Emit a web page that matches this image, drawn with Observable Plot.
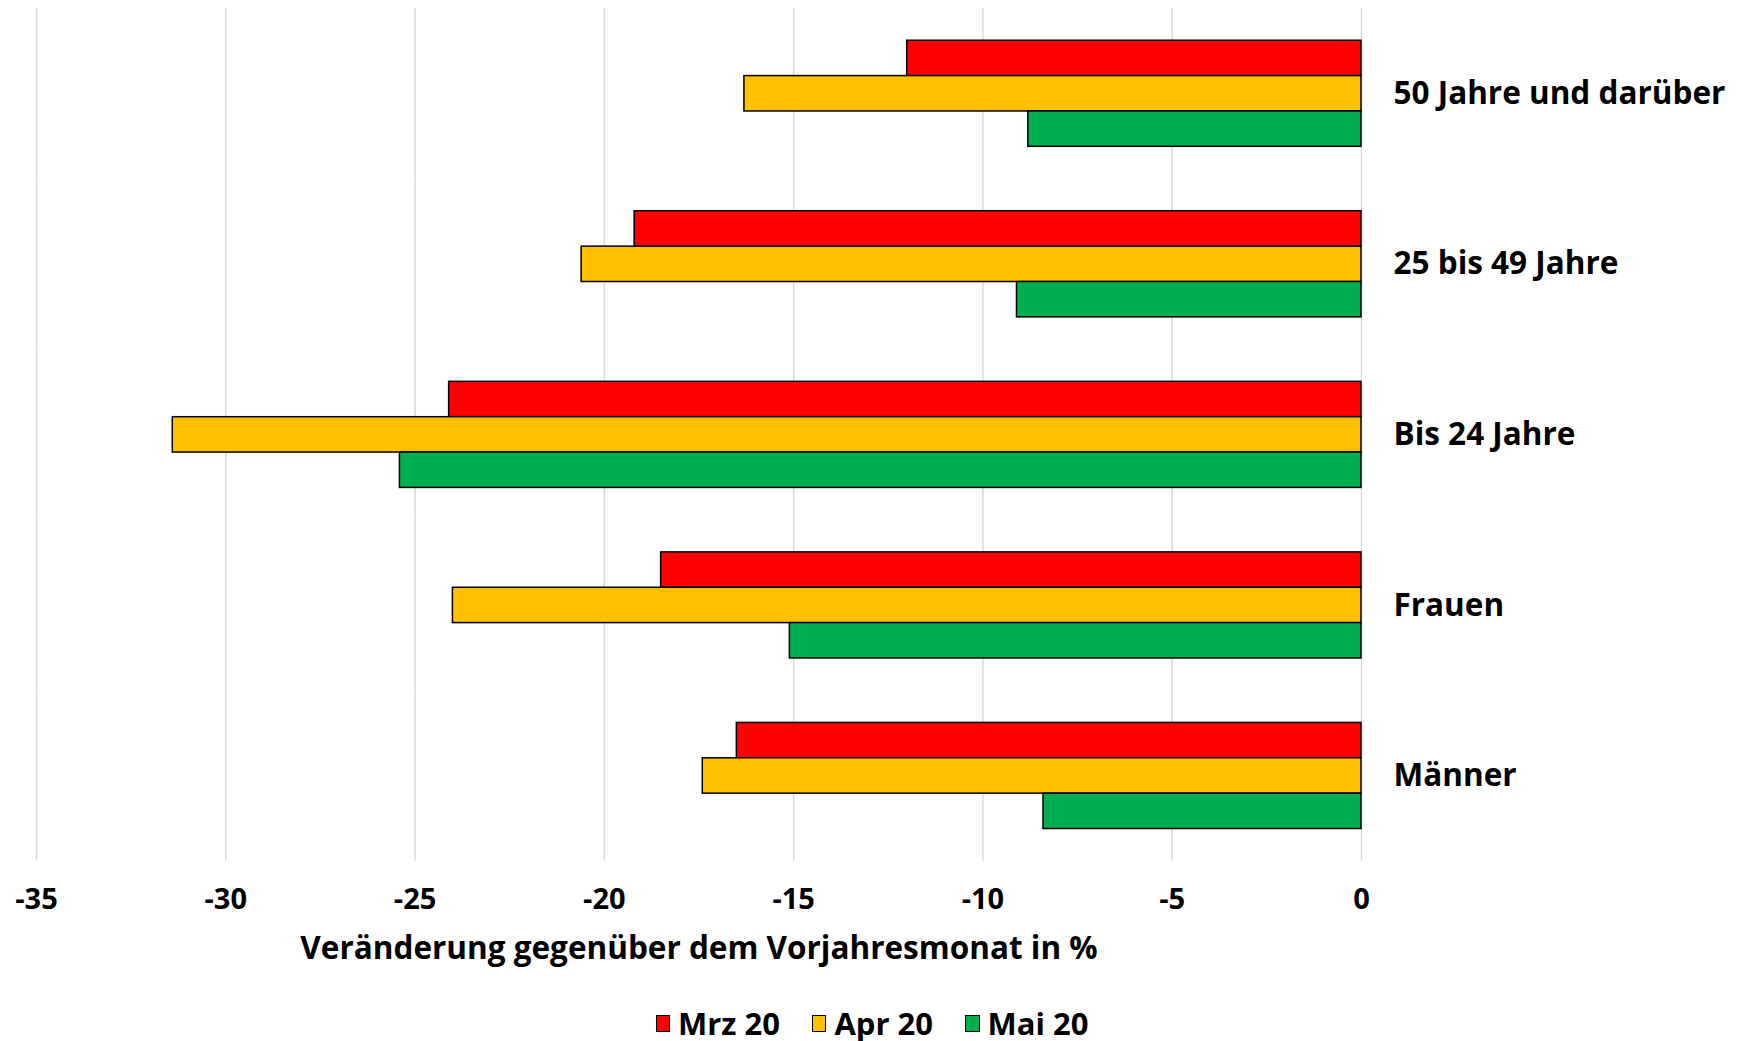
<!DOCTYPE html>
<html>
<head>
<meta charset="utf-8">
<script src="https://cdn.jsdelivr.net/npm/d3@7"></script>
<script src="https://cdn.jsdelivr.net/npm/@observablehq/plot@0.6"></script>
<style>
  html, body { margin: 0; padding: 0; background: #fff; overflow: hidden; }
  body { width: 1744px; height: 1041px; font-family: "Open Sans", Lato, sans-serif; }
  #legend { display: flex; justify-content: center; align-items: center; height: 34px; line-height: 34px; padding-top: 16px; font-weight: 700; font-size: 31px; color: #000; }
  .item { display: flex; align-items: center; margin: 0 16px; }
  .sw { width: 12.5px; height: 15px; border: 1.5px solid #000; margin-right: 8px; }
</style>
</head>
<body>
<div id="chart"></div>
<div id="legend"></div>
<script>
const categories = ["50 Jahre und darüber", "25 bis 49 Jahre", "Bis 24 Jahre", "Frauen", "Männer"];
const months = ["Mrz 20", "Apr 20", "Mai 20"];
const mrz = [-12.0, -19.2, -24.1, -18.5, -16.5];
const apr = [-16.3, -20.6, -31.4, -24.0, -17.4];
const mai = [-8.8, -9.1, -25.4, -15.1, -8.4];
const colors = ["#FF0000", "#FFC000", "#00B050"];
const xTicks = [-35, -30, -25, -20, -15, -10, -5, 0];
const axisTitle = "Veränderung gegenüber dem Vorjahresmonat in %";

const series = [mrz, apr, mai];
const data = categories.flatMap((c, i) => series.map((s, j) => ({category: c, month: months[j], value: s[i]})));

const H = 990, MT = 8, MB = 129.25;
const padIn = 0.378, padOut = 0.189;
const step = (H - MT - MB) / (categories.length - padIn + 2 * padOut);
const gridExt = padOut * step;

const chart = Plot.plot({
  width: 1744,
  height: H,
  marginTop: MT,
  marginBottom: MB,
  marginLeft: 36,
  marginRight: 383,
  style: {fontFamily: "'Open Sans', Lato, sans-serif", color: "#000", background: "#fff"},
  x: {domain: [-35, 0]},
  y: {domain: months, axis: null, padding: 0, round: false},
  fy: {domain: categories, axis: null, paddingInner: padIn, paddingOuter: padOut, round: false},
  color: {domain: months, range: colors},
  marks: [
    Plot.ruleX(xTicks, {x: d => d, stroke: "#d9d9d9", strokeWidth: 1.5, insetTop: -gridExt, insetBottom: -gridExt}),
    Plot.barX(data, {x: "value", y: "month", fy: "category", fill: "month", stroke: "#000", strokeWidth: 1.5}),
    Plot.text(categories, {fy: d => d, text: d => d, frameAnchor: "right", dx: 32, textAnchor: "start", fontSize: 31.5, fontWeight: 700, fill: "#000"}),
    Plot.axisX(xTicks, {tickSize: 0, tickPadding: 59, fontSize: 29, fontWeight: 700, label: null, fill: "#000", tickFormat: d => String(d)}),
    Plot.text([axisTitle], {text: d => d, frameAnchor: "bottom", dy: 130, facet: "super", fontSize: 31.5, fontWeight: 700, fill: "#000"})
  ]
});
document.getElementById("chart").appendChild(chart);

const legend = document.getElementById("legend");
months.forEach((m, i) => {
  const item = document.createElement("div");
  item.className = "item";
  const sw = document.createElement("div");
  sw.className = "sw";
  sw.style.background = colors[i];
  const t = document.createElement("span");
  t.textContent = m;
  item.appendChild(sw);
  item.appendChild(t);
  legend.appendChild(item);
});
</script>
</body>
</html>
